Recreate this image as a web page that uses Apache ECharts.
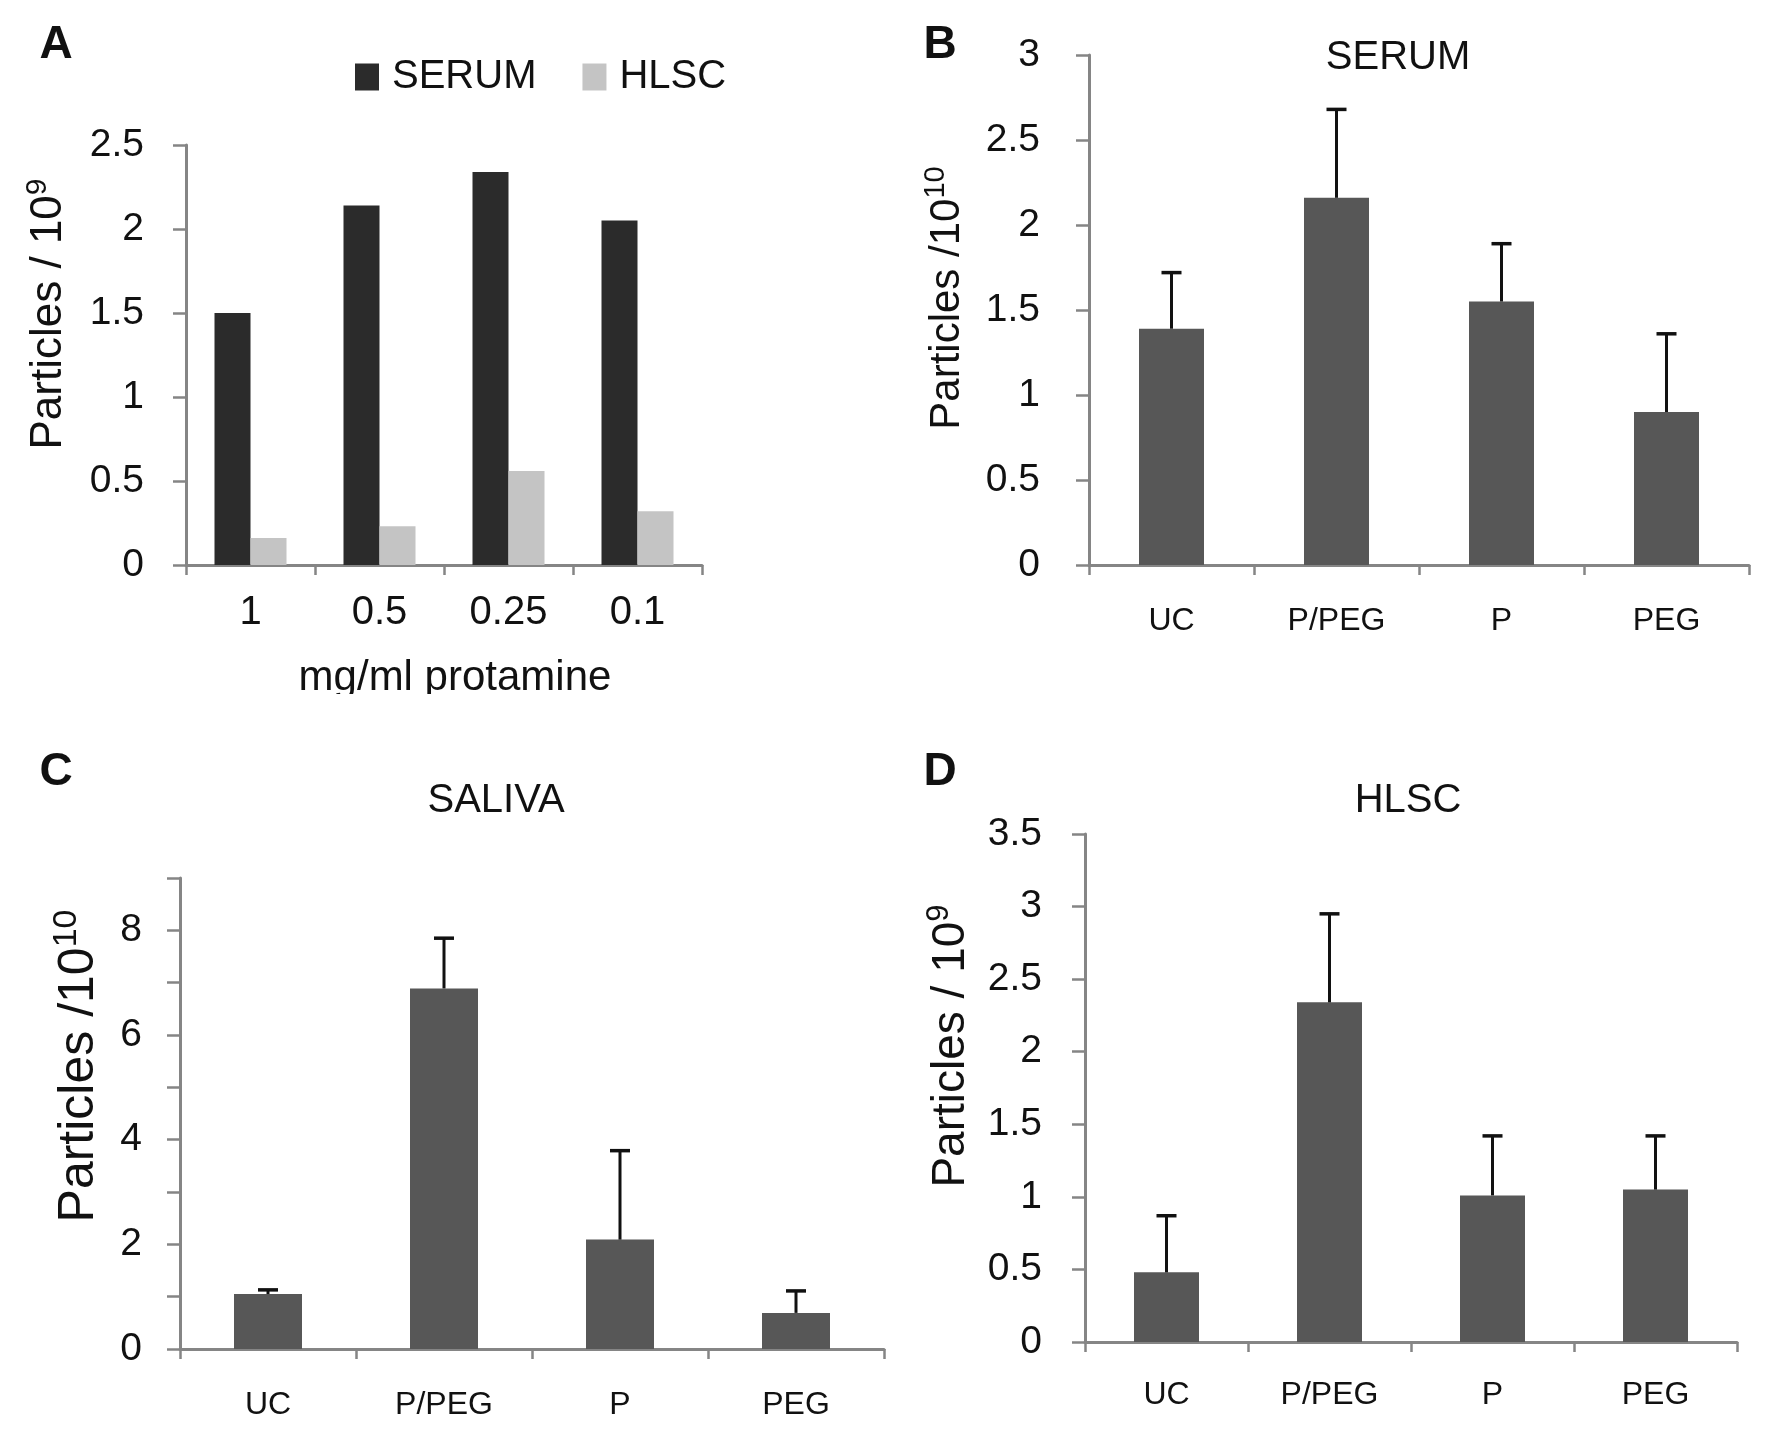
<!DOCTYPE html>
<html>
<head>
<meta charset="utf-8">
<script src="https://cdn.jsdelivr.net/npm/echarts@6/dist/echarts.min.js"></script>
<style>
html,body{margin:0;padding:0;background:#fff;}
#chart{width:1772px;height:1437px;}
</style>
</head>
<body>
<div id="chart"></div>
<script>
// ---- Data ----
const doseCategories = ['1', '0.5', '0.25', '0.1'];
const serumByDose = [1.50, 2.14, 2.34, 2.05];
const hlscByDose = [0.16, 0.23, 0.56, 0.32];

const methodCategories = ['UC', 'P/PEG', 'P', 'PEG'];
const serumMean = [1.39, 2.16, 1.55, 0.90];
const serumErr = [0.33, 0.52, 0.34, 0.46];
const salivaMean = [1.05, 6.89, 2.09, 0.69];
const salivaErr = [0.08, 0.96, 1.70, 0.42];
const hlscMean = [0.48, 2.34, 1.01, 1.05];
const hlscErr = [0.39, 0.61, 0.41, 0.37];

// ---- Styles ----
const FONT = "'Liberation Sans', Arial, sans-serif";
const AXIS_GREY = '#858585';
const BAR_GREY = '#575757';

function errorSeries(idx, means, errs) {
  return {
    type: 'custom',
    xAxisIndex: idx, yAxisIndex: idx,
    z: 5,
    renderItem: function (params, api) {
      const p0 = api.coord([api.value(0), api.value(1)]);
      const p1 = api.coord([api.value(0), api.value(1) + api.value(2)]);
      const cap = 10;
      return {
        type: 'group',
        children: [
          { type: 'line', shape: { x1: p0[0], y1: p0[1], x2: p1[0], y2: p1[1] }, style: { stroke: '#111', lineWidth: 3 } },
          { type: 'line', shape: { x1: p1[0] - cap, y1: p1[1], x2: p1[0] + cap, y2: p1[1] }, style: { stroke: '#111', lineWidth: 3.5 } }
        ]
      };
    },
    data: means.map((m, i) => [i, m, errs[i]])
  };
}

function xAxisCfg(idx, cats, fontSize, margin) {
  return {
    type: 'category', gridIndex: idx, data: cats,
    axisLine: { lineStyle: { color: AXIS_GREY, width: 3 } },
    axisTick: { show: true, length: 10, lineStyle: { color: AXIS_GREY, width: 2.5 } },
    axisLabel: { fontFamily: FONT, fontSize: fontSize, color: '#111', margin: margin }
  };
}
function yAxisCfg(idx, max, interval, margin, fmt) {
  return {
    type: 'value', gridIndex: idx, min: 0, max: max, interval: interval,
    splitLine: { show: false },
    axisLine: { show: true, lineStyle: { color: AXIS_GREY, width: 3 } },
    axisTick: { show: true, length: 13, lineStyle: { color: AXIS_GREY, width: 2.5 } },
    axisLabel: { fontFamily: FONT, fontSize: 39, color: '#111', margin: margin, formatter: fmt }
  };
}

function vText(x, y, main, sup, size) {
  return {
    type: 'text', x: x, y: y, rotation: Math.PI / 2,
    style: {
      text: '{a|' + main + '}{s|' + sup + '}',
      align: 'center', verticalAlign: 'middle',
      fill: '#111', fontFamily: FONT,
      rich: {
        a: { fontSize: size, fontFamily: FONT, fill: '#111', verticalAlign: 'bottom' },
        s: { fontSize: Math.round(size * 0.68), fontFamily: FONT, fill: '#111', verticalAlign: 'bottom', padding: [0, 0, Math.round(size * 0.42), 0] }
      }
    }
  };
}
function hText(x, y, txt, size, bold) {
  return {
    type: 'text', x: x, y: y,
    style: { text: txt, align: 'center', verticalAlign: 'middle', fill: '#111', fontFamily: FONT, fontSize: size, fontWeight: bold ? 'bold' : 'normal' }
  };
}

const chart = echarts.init(document.getElementById('chart'), null, { renderer: 'canvas' });
chart.setOption({
  backgroundColor: '#fff',
  animation: false,
  legend: {
    data: ['SERUM', 'HLSC'],
    left: 350, top: 52,
    icon: 'rect', itemWidth: 24, itemHeight: 27, itemGap: 46,
    textStyle: { fontFamily: FONT, fontSize: 40, color: '#111', padding: [0, 0, 0, 8] }
  },
  grid: [
    { left: 186, top: 145, width: 516, height: 420 },
    { left: 1089, top: 55, width: 660, height: 510 },
    { left: 180, top: 878, width: 704, height: 471 },
    { left: 1085, top: 834, width: 652, height: 508 }
  ],
  xAxis: [
    xAxisCfg(0, doseCategories, 40, 28),
    xAxisCfg(1, methodCategories, 32, 40),
    xAxisCfg(2, methodCategories, 32, 40),
    xAxisCfg(3, methodCategories, 32, 37)
  ],
  yAxis: [
    yAxisCfg(0, 2.5, 0.5, 42),
    yAxisCfg(1, 3, 0.5, 49),
    yAxisCfg(2, 9, 1, 38, function (v) { return v % 2 === 0 ? String(v) : ''; }),
    yAxisCfg(3, 3.5, 0.5, 43)
  ],
  series: [
    { name: 'SERUM', type: 'bar', xAxisIndex: 0, yAxisIndex: 0, data: serumByDose, barWidth: 36, barGap: '0%', itemStyle: { color: '#2b2b2b' } },
    { name: 'HLSC', type: 'bar', xAxisIndex: 0, yAxisIndex: 0, data: hlscByDose, barWidth: 36, barGap: '0%', itemStyle: { color: '#c4c4c4' } },
    { type: 'bar', xAxisIndex: 1, yAxisIndex: 1, data: serumMean, barWidth: 65, itemStyle: { color: BAR_GREY } },
    errorSeries(1, serumMean, serumErr),
    { type: 'bar', xAxisIndex: 2, yAxisIndex: 2, data: salivaMean, barWidth: 68, itemStyle: { color: BAR_GREY } },
    errorSeries(2, salivaMean, salivaErr),
    { type: 'bar', xAxisIndex: 3, yAxisIndex: 3, data: hlscMean, barWidth: 65, itemStyle: { color: BAR_GREY } },
    errorSeries(3, hlscMean, hlscErr)
  ],
  graphic: [
    hText(56, 45, 'A', 46, true),
    hText(940, 45, 'B', 46, true),
    hText(56, 772, 'C', 46, true),
    hText(940, 772, 'D', 46, true),
    hText(1398, 58, 'SERUM', 40, false),
    hText(496, 801, 'SALIVA', 40, false),
    hText(1408, 801, 'HLSC', 40, false),
    hText(455, 678, 'mg/ml protamine', 42, false),
    { type: 'rect', shape: { x: 280, y: 694, width: 360, height: 30 }, style: { fill: '#fff' }, z: 10 },
    vText(47, 314, 'Particles / 10', '9', 44),
    vText(945, 298, 'Particles /10', '10', 42),
    vText(77, 1066, 'Particles /10', '10', 50),
    vText(949, 1046, 'Particles / 10', '9', 46)
  ]
});
</script>
</body>
</html>
